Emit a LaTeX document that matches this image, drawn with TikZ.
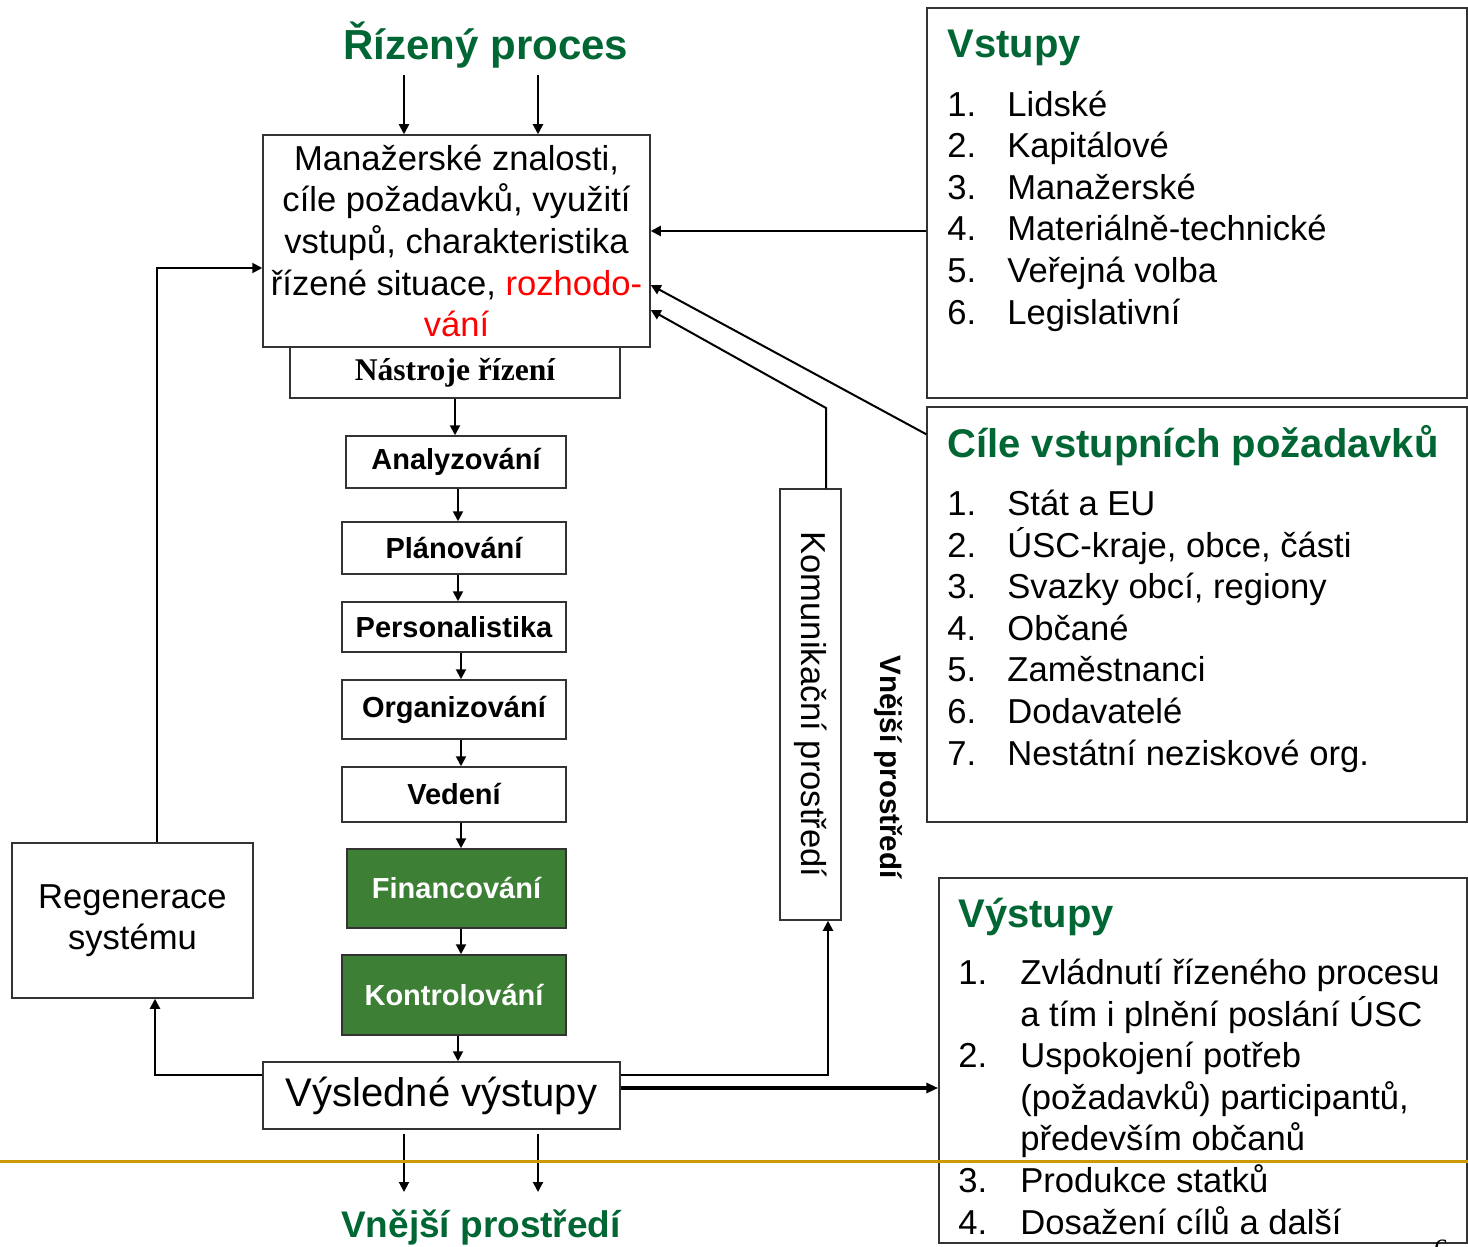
\documentclass[tikz,border=0pt]{standalone}
\usepackage{fontspec}
\setmainfont{Liberation Sans}
\newfontfamily\serifface{Liberation Serif}
\usepackage{xcolor}
\usepackage{tikz}
\usetikzlibrary{arrows.meta,calc}

\definecolor{headgreen}{HTML}{006633}
\definecolor{stepgreen}{HTML}{3D8035}
\definecolor{boxgray}{HTML}{333333}
\definecolor{rulegold}{HTML}{CC9900}

\newcommand\diagbody{\fontsize{17.3pt}{20.8pt}\selectfont}
\newcommand\diaghead{\fontsize{20pt}{24pt}\selectfont\bfseries}
\newcommand\diagstep{\fontsize{14.5pt}{17pt}\selectfont\bfseries}
\newcommand\itemno[1]{\makebox[30pt][l]{#1}}

\begin{document}
\begin{tikzpicture}[
  x=0.5pt, y=-0.5pt,
  box/.style    ={rectangle, draw=boxgray, line width=0.75pt, fill=white,
                  inner sep=0pt, align=center},
  stepbox/.style={box, font=\diagstep, minimum width=112pt},
  greenbox/.style={stepbox, fill=stepgreen, text=white},
  panel/.style  ={box, minimum width=270pt},
  head/.style   ={font=\diaghead, text=headgreen, inner sep=0pt},
  list/.style   ={font=\diagbody, align=left, inner sep=0pt, anchor=base west},
  arr/.style    ={-{Triangle[length=5pt,width=5pt]}, line width=1pt},
  arrbold/.style={-{Triangle[length=6pt,width=5pt]}, line width=1.6pt}
]
  \clip (0,0) rectangle (1468,1247);

  % central column
  \node[head, anchor=base, font=\fontsize{21pt}{25pt}\selectfont\bfseries] (proc) at (486,60) {Řízený proces};
  \node[box, font=\diagbody, minimum width=193.5pt, minimum height=106pt] (ctrl) at (456.5,241)
    {Manažerské znalosti,\\cíle požadavků, využití\\vstupů, charakteristika\\řízené situace, \textcolor{red}{rozhodo-}\\\textcolor{red}{vání}};
  \node[box, font=\serifface\fontsize{15.8pt}{19pt}\selectfont\bfseries,
        minimum width=165pt, minimum height=25.5pt] (tools) at (455,372.5) {Nástroje řízení};
  \node[stepbox, minimum width=110pt, minimum height=26pt] (analyza) at (456,462) {Analyzování};
  \node[stepbox, minimum height=26pt]   (plan)    at (454,548)   {Plánování};
  \node[stepbox, minimum height=25pt]   (perso)   at (454,627)   {Personalistika};
  \node[stepbox, minimum height=29.5pt] (organ)   at (454,709.5) {Organizování};
  \node[stepbox, minimum height=27.5pt] (vedeni)  at (454,794.5) {Vedení};
  \node[greenbox, minimum width=109.5pt, minimum height=39.5pt] (financ) at (456.5,888.5) {Financování};
  \node[greenbox, minimum height=40pt]  (kontrol) at (454,995)   {Kontrolování};
  \node[box, font=\fontsize{20pt}{24pt}\selectfont, minimum width=178.5pt, minimum height=33.5pt] (vysl) at (441.5,1095.5) {Výsledné výstupy};
  \node[head, anchor=base, font=\fontsize{18.5pt}{22pt}\selectfont\bfseries] (outside) at (481,1237) {Vnější prostředí};

  % left and middle side
  \node[box, font=\diagbody, minimum width=120.5pt, minimum height=77.5pt] (regen) at (132.5,920.5) {Regenerace\\systému};
  % rotated clockwise: .west is the top edge, .east the bottom edge
  \node[box, rotate=-90, font=\diagbody, minimum width=215.5pt, minimum height=30.5pt] (komun) at (810.5,704.5) {Komunikační prostředí};
  \node[rotate=-90, font=\fontsize{14.75pt}{17pt}\selectfont\bfseries, inner sep=0pt] (envside) at (888,767) {Vnější prostředí};

  % right panels (list nodes sit on the baseline of their last line)
  \node[panel, minimum height=195pt]   (vstupy)  at (1197,203) {};
  \node[panel, minimum height=207.5pt] (cile)    at (1197,614.5) {};
  \node[panel, minimum width=264pt, minimum height=182.5pt] (vystupy) at (1203,1060.5) {};

  \node[head, anchor=base west] (vsthead) at (947,58) {Vstupy};
  \node[list] (vstlist) at (947,324)
    {\itemno{1.}Lidské\\\itemno{2.}Kapitálové\\\itemno{3.}Manažerské\\\itemno{4.}Materiálně-technické\\\itemno{5.}Veřejná volba\\\itemno{6.}Legislativní};
  \node[head, anchor=base west] (cilhead) at (947,457) {Cíle vstupních požadavků};
  \node[list] (cillist) at (947,765)
    {\itemno{1.}Stát a EU\\\itemno{2.}ÚSC-kraje, obce, části\\\itemno{3.}Svazky obcí, regiony\\\itemno{4.}Občané\\\itemno{5.}Zaměstnanci\\\itemno{6.}Dodavatelé\\\itemno{7.}Nestátní neziskové org.};
  \node[head, anchor=base west] (vyshead) at (958,927) {Výstupy};
  \node[list] (vyslist) at (958,1234)
    {\makebox[31pt][l]{1.}Zvládnutí řízeného procesu\\\hspace*{31pt}a tím i plnění poslání ÚSC\\\makebox[31pt][l]{2.}Uspokojení potřeb\\\hspace*{31pt}(požadavků) participantů,\\\hspace*{31pt}především občanů\\\makebox[31pt][l]{3.}Produkce statků\\\makebox[31pt][l]{4.}Dosažení cílů a další};

  \coordinate (in1)  at (404,75);
  \coordinate (in2)  at (538,75);
  \coordinate (out1) at (404,1192);
  \coordinate (out2) at (538,1192);

  % flow
  \draw[arr] (in1) -- (in1 |- ctrl.north);
  \draw[arr] (in2) -- (in2 |- ctrl.north);
  \draw[arr] (tools.south) -- (tools.south |- analyza.north);
  \draw[arr] ($(analyza.south)+(2,0)$) -- ($(plan.north)+(4,0)$);
  \draw[arr] ($(plan.south)+(4,0)$) -- ($(perso.north)+(4,0)$);
  \draw[arr] ($(perso.south)+(7,0)$) -- ($(organ.north)+(7,0)$);
  \draw[arr] ($(organ.south)+(7,0)$) -- ($(vedeni.north)+(7,0)$);
  \draw[arr] ($(vedeni.south)+(7,0)$) -- ($(financ.north)+(4.5,0)$);
  \draw[arr] ($(financ.south)+(4.5,0)$) -- ($(kontrol.north)+(7,0)$);
  \draw[arr] ($(kontrol.south)+(4,0)$) -- ($(vysl.north)+(16.5,0)$);
  \draw[arr, shorten <=2pt] (out1 |- vysl.south) -- (out1);
  \draw[arr, shorten <=2pt] (out2 |- vysl.south) -- (out2);

  % feedback and links
  \draw[arr] ($(vysl.west)+(0,-20.5)$) -| ($(regen.south)+(22.5,0)$);
  \draw[arr] ($(regen.north)+(24.5,0)$) |- ($(ctrl.west)+(0,27)$);
  \draw[arr] ($(vysl.east)+(0,-20.5)$) -| ($(komun.east)+(17.5,0)$);
  \draw[arrbold] ($(vysl.east)+(0,-7.5)$) -- ($(vystupy.west)+(0,27.5)$);
  \draw[arr] ($(komun.west)+(15.5,0)$) -- (826,408) -- ($(ctrl.east)+(0,69)$);
  \draw[arr] ($(cile.north west)+(0,28)$) -- ($(ctrl.east)+(0,44)$);
  \draw[arr] ($(vstupy.west)+(0,28)$) -- ($(ctrl.east)+(0,-10)$);

  \draw[rulegold, line width=1.5pt] (0,1161) -- (1468,1161);
  \node[anchor=base, font=\serifface\fontsize{14pt}{17pt}\selectfont, inner sep=0pt] (pageno) at (1441,1258) {6};
\end{tikzpicture}
\end{document}
